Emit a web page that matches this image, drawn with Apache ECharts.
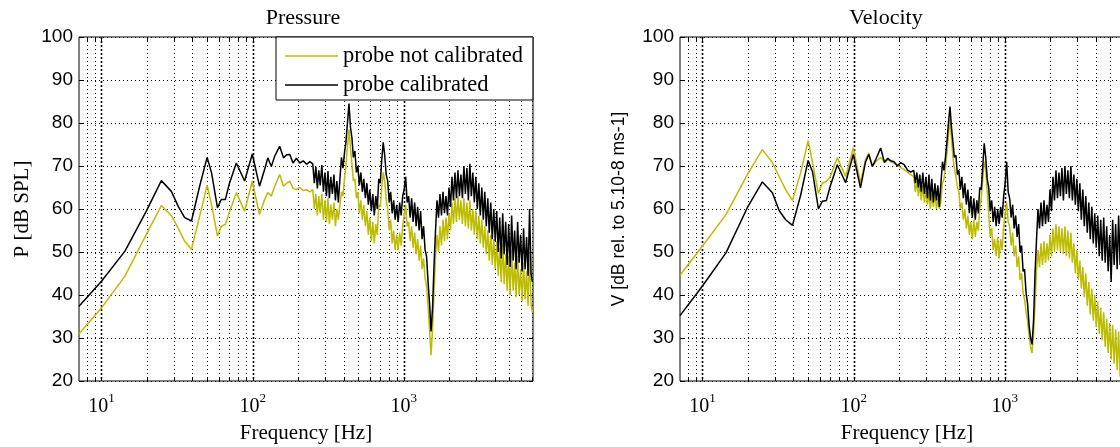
<!DOCTYPE html>
<html><head><meta charset="utf-8">
<script src="https://cdn.jsdelivr.net/npm/echarts@6/dist/echarts.min.js"></script>
<style>html,body{margin:0;padding:0;background:#fff;}#c{width:1120px;height:447px;}</style>
</head><body><div id="c"></div>
<script>
// ---- data ----
const freq = [7.1,10,14.3,19.8,24.9,29,32.2,35.5,39.4,44.6,50,53.5,58.5,62,66,70,78,88.5,99.5,111,120,126,133,140,151,160,168,176,185,195,205,216,228,239,
250,256,262,268,274,280,287,294,301,308,
315,322,329,337,345,353,361,369,378,387,
396,405,414,424,434,444,454,464,475,486,
497,508,520,532,544,557,570,583,596,610,
624,638,653,668,683,699,715,731,748,765,
783,801,819,838,857,877,897,918,939,961,
983,1006,1029,1053,1077,1102,1127,1153,1180,1207,
1235,1263,1292,1322,1352,1383,1415,1448,1481,1515,
1550,1586,1622,1659,1697,1736,1776,1817,1859,1902,
1946,1991,2037,2084,2132,2181,2231,2282,2334,2388,
2443,2499,2556,2615,2675,2737,2800,2864,2930,2997,
3066,3137,3209,3283,3358,3435,3514,3595,3678,3762,
3849,3937,4028,4120,4215,4312,4411,4513,4616,4723,
4831,4942,5056,5172,5291,5413,5538,5665,5795,5929,
6065,6205,6347,6493,6643,6795,6952,7100];

const pressureNotCal = [31.0,37.0,44.4,54.1,60.8,58.5,55.5,52.5,50.6,58.3,65.5,61.0,53.7,56.0,56.4,59.1,63.8,59.5,66.5,58.7,62.2,63.8,63.0,65.3,68.0,65.3,66.0,66.5,64.8,64.5,65.0,64.3,64.5,64.0,
64.5,60.0,63.5,58.5,63.0,59.0,63.5,57.5,62.0,57.0,
62.5,56.5,61.0,57.5,61.5,56.0,60.0,57.5,61.0,64.0,
63.0,67.0,70.0,74.5,78.5,74.0,70.5,66.5,67.0,62.5,
64.0,59.0,62.0,57.5,61.0,56.0,59.5,54.0,58.0,52.5,
57.0,52.0,56.5,54.0,61.0,60.5,65.0,68.5,66.5,62.0,
60.0,55.0,57.5,52.0,55.0,50.5,54.0,50.5,54.5,51.5,
56.0,58.5,61.0,56.0,57.0,52.5,56.0,51.0,54.5,49.5,
53.0,48.0,51.5,46.0,48.5,44.0,42.0,37.5,32.0,26.0,
32.0,41.0,49.0,54.0,50.0,56.0,51.5,57.5,52.5,58.0,
53.0,59.0,55.0,61.5,56.5,62.5,57.0,63.0,57.5,62.0,
56.5,62.5,56.0,61.5,55.5,62.0,55.0,60.0,54.0,59.5,
53.0,58.5,52.0,57.5,51.0,56.0,49.5,55.0,48.0,54.0,
47.0,53.0,46.0,52.5,44.5,51.0,43.0,52.0,42.5,49.5,
41.0,49.0,40.0,50.5,41.0,47.5,39.5,49.0,40.0,46.0,
38.5,47.5,39.0,45.5,37.5,50.0,38.0,36.0];

const pressureCal = [37.4,43.2,50.2,59.5,66.6,64.1,60.6,58.0,57.2,65.3,72.0,68.4,60.3,62.2,62.2,65.8,70.7,66.5,72.8,65.3,69.2,71.9,69.9,72.3,74.6,71.9,72.6,72.7,70.7,71.8,70.7,71.2,70.4,71.0,
70.5,66.0,69.8,64.8,69.0,65.5,70.2,64.0,68.5,63.0,
68.8,62.5,67.5,63.5,68.0,62.0,66.5,61.5,67.0,72.0,
69.5,73.0,75.5,80.0,84.5,79.0,76.5,72.0,73.5,68.5,
70.0,65.5,68.5,64.0,67.0,62.5,66.0,61.0,64.5,59.5,
63.5,58.5,63.0,60.0,67.0,66.0,71.5,75.5,72.5,68.0,
66.5,61.5,64.0,59.0,62.0,57.5,61.0,57.0,61.5,58.5,
63.0,64.5,67.5,61.5,63.0,58.0,62.5,57.0,61.5,56.0,
60.5,55.0,59.5,53.0,56.0,50.5,49.0,43.0,38.0,31.5,
37.0,47.0,55.0,62.0,58.0,63.5,58.5,64.0,59.0,63.0,
58.5,65.0,60.5,67.5,62.0,68.5,62.5,69.0,63.0,68.0,
62.5,70.0,63.5,69.5,62.0,70.5,63.0,68.5,61.5,67.5,
60.0,66.0,58.5,65.0,57.5,64.0,56.0,62.5,54.5,61.5,
53.0,60.0,52.5,59.5,50.0,58.0,48.5,59.0,49.5,57.0,
47.0,56.5,46.5,58.5,48.0,55.0,46.0,57.0,47.5,54.0,
45.5,55.5,46.0,53.5,44.5,60.0,45.0,43.0];

const velocityNotCal = [44.6,51.4,58.7,68.0,73.8,70.8,67.5,64.5,62.0,68.4,75.9,70.8,63.6,66.0,66.4,67.5,71.9,67.6,74.2,66.1,71.5,73.0,69.9,71.0,72.0,71.0,71.6,71.0,70.7,70.2,69.6,69.2,68.5,68.0,
67.5,64.0,66.5,63.0,66.0,62.0,65.5,61.5,64.5,61.0,
64.0,60.0,63.5,60.5,64.0,60.0,62.5,60.0,62.0,66.0,
67.0,69.5,73.0,77.0,80.8,76.5,72.0,69.5,67.5,65.0,
64.0,60.0,61.5,57.5,60.0,55.5,58.5,54.0,57.0,53.0,
57.5,53.5,57.0,55.0,60.0,62.5,67.0,71.0,69.5,64.0,
59.0,53.5,55.5,50.5,53.0,49.0,53.5,48.5,53.0,50.5,
56.0,59.0,61.5,57.0,56.0,51.5,54.5,49.0,51.5,46.5,
49.0,43.5,45.0,40.5,39.0,36.0,34.0,30.5,28.0,26.5,
31.0,38.0,46.0,50.5,46.5,52.0,47.0,52.5,47.5,52.0,
48.0,54.0,49.0,55.5,50.0,56.5,50.5,56.0,50.0,55.5,
49.5,56.0,49.0,55.0,48.5,54.5,47.5,52.0,45.0,50.5,
43.5,48.0,41.5,46.5,39.5,45.0,37.5,43.0,35.5,41.5,
34.0,40.0,32.5,38.5,31.0,37.0,29.5,36.0,28.0,34.5,
26.5,33.5,25.0,33.0,24.0,32.0,22.5,31.5,21.0,30.5,
20.5,31.0,20.0,29.5,20.0,28.0,20.0,27.0];

const velocityCal = [35.2,42.1,49.8,60.3,66.3,63.8,59.6,57.5,56.2,63.2,71.3,68.6,60.0,61.8,62.0,65.3,70.3,66.1,72.7,64.9,71.0,72.7,69.9,71.5,74.2,70.8,71.8,71.2,71.0,70.0,70.8,70.3,69.0,68.6,
69.0,66.0,68.5,65.0,68.0,64.0,68.5,63.5,67.5,62.5,
68.0,62.0,67.0,61.5,66.0,62.0,65.5,60.5,66.0,71.0,
69.0,72.0,75.5,80.0,83.8,79.0,75.5,72.0,72.5,68.0,
69.0,64.5,67.5,62.5,66.0,61.0,64.5,59.0,63.0,58.0,
62.5,57.5,62.0,59.0,65.0,64.5,70.0,75.3,72.0,67.0,
65.0,59.5,62.0,57.0,60.5,56.0,60.0,56.5,60.5,58.0,
63.0,66.0,71.0,64.0,62.5,58.0,61.0,55.5,58.5,53.5,
56.5,50.0,51.5,45.5,46.0,40.5,38.0,33.0,30.0,28.5,
34.0,45.0,53.0,60.0,55.5,61.5,56.0,62.0,56.5,61.0,
57.0,64.5,59.5,67.5,62.0,69.0,62.5,68.5,63.0,69.5,
62.0,70.0,63.5,69.0,62.5,70.0,62.0,68.0,61.0,67.0,
59.5,66.0,57.5,64.5,56.0,63.0,54.5,61.5,53.0,60.5,
52.0,59.0,51.0,58.5,49.0,57.5,48.0,58.0,47.5,56.0,
45.5,54.0,43.0,57.5,47.0,56.5,46.0,58.5,47.0,57.0,
46.5,58.0,47.5,56.0,46.0,57.0,45.5,50.0];

const gridFreqs = [8,9,10,20,30,40,50,60,70,80,90,100,200,300,400,500,600,700,800,900,1000,2000,3000,4000,5000,6000,7000];
const yTicks = [20,30,40,50,60,70,80,90,100];
const titles = ['Pressure', 'Velocity'];
const yNames = ['P [dB SPL]', 'V [dB rel. to 5.10-8 ms-1]'];
const xName = 'Frequency [Hz]';
const seriesNames = ['probe not calibrated', 'probe calibrated'];

// ---- drawing ----
const X_MIN = 7.1, X_MAX = 7160, Y_MIN = 20, Y_MAX = 100;
const YEL = '#bcbc00', BLK = '#000000';
const serif = '"Liberation Serif", "Times New Roman", serif';
const sans = '"Liberation Sans", Arial, sans-serif';

function pairs(arr) { return freq.map((f, i) => [f, arr[i]]); }

function vGridRender(params, api) {
  const f = api.value(0);
  const t = api.coord([f, Y_MAX]);
  const b = api.coord([f, Y_MIN]);
  const x = Math.round(t[0]) + 0.5;
  const tk = 4;
  const major = Math.abs(Math.log10(f) - Math.round(Math.log10(f))) < 1e-6;
  return { type: 'group', children: [
    { type: 'line', shape: { x1: x, y1: t[1], x2: x, y2: b[1] }, style: { stroke: '#000', lineWidth: major ? 1.6 : 1, lineDash: major ? [2, 2] : [1, 3] } },
    { type: 'line', shape: { x1: x, y1: b[1], x2: x, y2: b[1] - tk }, style: { stroke: '#000', lineWidth: 1 } },
    { type: 'line', shape: { x1: x, y1: t[1], x2: x, y2: t[1] + tk }, style: { stroke: '#000', lineWidth: 1 } }
  ]};
}
function rTickRender(params, api) {
  const p = api.coord([X_MAX, api.value(1)]);
  const y = Math.round(p[1]) + 0.5;
  return { type: 'line', shape: { x1: p[0], y1: y, x2: p[0] - 4, y2: y }, style: { stroke: '#000', lineWidth: 1 } };
}

const grids = [
  { left: 79, top: 37, width: 454, height: 344 },
  { left: 680, top: 37, width: 454, height: 344 }
].map(g => Object.assign(g, { show: true, borderColor: '#000', borderWidth: 1, backgroundColor: '#fff', containLabel: false, outerBoundsMode: 'none' }));

const xAxes = [0, 1].map(i => ({
  gridIndex: i, type: 'log', logBase: 10, min: X_MIN, max: X_MAX,
  axisLine: { show: false }, axisTick: { show: false }, splitLine: { show: false },
  minorTick: { show: false }, minorSplitLine: { show: false },
  axisLabel: {
    showMinLabel: false, showMaxLabel: false, margin: 11, hideOverlap: false,
    formatter: v => '{b|10}{s|' + Math.round(Math.log10(v)) + '}',
    rich: {
      b: { fontFamily: serif, fontSize: 20, color: '#000', lineHeight: 30 },
      s: { fontFamily: serif, fontSize: 13, color: '#000', verticalAlign: 'top', lineHeight: 14 }
    }
  },
  name: xName, nameLocation: 'middle', nameGap: 42,
  nameTextStyle: { fontFamily: serif, fontSize: 21, color: '#000' }
}));

const yAxes = [0, 1].map(i => ({
  gridIndex: i, type: 'value', min: Y_MIN, max: Y_MAX, interval: 10,
  axisLine: { show: false },
  axisTick: { show: true, inside: true, length: 4, lineStyle: { color: '#000' } },
  axisLabel: { fontFamily: sans, fontSize: 19, color: '#000', margin: 6 },
  splitLine: { show: true, lineStyle: { color: '#000', width: 1, type: [1, 3] } },
  name: yNames[i], nameLocation: 'middle', nameRotate: 90, nameGap: i === 0 ? 46 : 52,
  nameTextStyle: i === 0 ? { fontFamily: serif, fontSize: 21, color: '#000' } : { fontFamily: sans, fontSize: 17.5, color: '#000' }
}));

const series = [];
[[pressureNotCal, pressureCal], [velocityNotCal, velocityCal]].forEach((pair, i) => {
  series.push({ type: 'custom', xAxisIndex: i, yAxisIndex: i, renderItem: vGridRender, data: gridFreqs.map(f => [f, Y_MIN]), silent: true, z: 1, animation: false, clip: false });
  series.push({ type: 'custom', xAxisIndex: i, yAxisIndex: i, renderItem: rTickRender, data: yTicks.map(v => [X_MAX, v]), silent: true, z: 1, animation: false, clip: false });
  series.push({ type: 'line', name: seriesNames[0], xAxisIndex: i, yAxisIndex: i, data: pairs(pair[0]), showSymbol: false, symbol: 'none', lineStyle: { color: YEL, width: 1.5 }, itemStyle: { color: YEL }, animation: false, clip: true, z: 3 });
  series.push({ type: 'line', name: seriesNames[1], xAxisIndex: i, yAxisIndex: i, data: pairs(pair[1]), showSymbol: false, symbol: 'none', lineStyle: { color: BLK, width: 1.5 }, itemStyle: { color: BLK }, animation: false, clip: true, z: 4 });
});

const chart = echarts.init(document.getElementById('c'));
chart.setOption({
  backgroundColor: '#fff',
  animation: false,
  grid: grids, xAxis: xAxes, yAxis: yAxes, series: series,
  legend: {
    data: seriesNames, orient: 'vertical', left: 276, top: 37, icon: 'rect',
    padding: [7, 10, 3, 9], itemWidth: 53, itemHeight: 1.5, itemGap: 5,
    borderColor: '#000', borderWidth: 1, backgroundColor: '#fff', z: 10,
    textStyle: { fontFamily: serif, fontSize: 22.5, color: '#000', lineHeight: 24 },
    selectedMode: false
  },
  graphic: [
    { type: 'text', x: 303, y: 18, style: { text: titles[0], font: '22px ' + serif, fill: '#000', textAlign: 'center', textVerticalAlign: 'middle' } },
    { type: 'text', x: 886, y: 18, style: { text: titles[1], font: '22px ' + serif, fill: '#000', textAlign: 'center', textVerticalAlign: 'middle' } }
  ]
});
</script></body></html>
